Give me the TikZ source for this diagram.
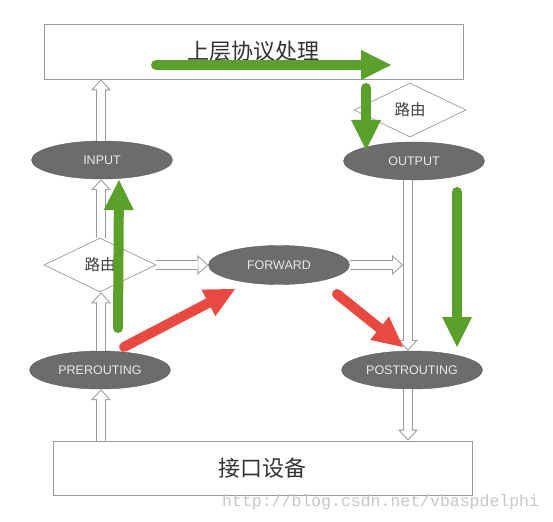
\documentclass[tikz,border=0pt]{standalone}
\usepackage{fontspec}
\setmainfont{Liberation Sans}
\newfontfamily\cjk{Noto Sans CJK SC}
\newfontfamily\wmfont{Liberation Mono}
\usetikzlibrary{shapes.geometric,arrows.meta}
\definecolor{lgray}{HTML}{9A9A9A}
\definecolor{egray}{HTML}{6C6C6C}
\definecolor{etext}{HTML}{E8E8E8}
\definecolor{grn}{HTML}{5BA02B}
\definecolor{rd}{HTML}{E84A41}
\begin{document}
\begin{tikzpicture}[x=1pt,y=-1pt,
  box/.style={draw=lgray, line width=0.8pt, minimum width=419pt, minimum height=55pt, inner sep=0pt, font=\cjk\fontsize{22}{22}\selectfont, text=black!80},
  chain/.style={ellipse, fill=egray, draw=egray!85!black, line width=0.4pt, minimum width=141pt, minimum height=38pt, inner sep=0pt, text=etext, font=\fontsize{12.5}{14}\selectfont},
  route/.style={diamond, draw=lgray, line width=0.7pt, minimum width=112pt, minimum height=54pt, inner sep=0pt, fill=white, font=\cjk\fontsize{15.5}{15.5}\selectfont, text=black!75},
  hollow/.style={line width=8pt, draw=white, shorten >=1.5pt, -{Triangle[length=8.5pt,width=15.5pt,line width=0pt]}, preaction={draw=lgray, line width=10pt, shorten >=0pt, -{Triangle[length=11pt,width=20pt,line width=0pt]}}},
  fat/.style={line width=10pt, line cap=round, -{Triangle[length=30pt,width=30pt,line width=0pt]}},
]
\fill[white] (0,0) rectangle (553,521);
\useasboundingbox (0,0) rectangle (553,521);

% boxes
\node[box] (top) at (253.5,51.5) {上层协议处理};
\node[box, minimum height=54pt] (bot) at (262.5,468) {接口设备};

% decision diamonds
\node[route] (rl) at (100,265) {路由};
\node[route] (rr) at (410,110) {路由};

% chains
\node[chain] (input) at (102,160) {INPUT};
\node[chain] (output) at (414,161) {OUTPUT};
\node[chain] (pre) at (100,370) {PREROUTING};
\node[chain] (post) at (412,370) {POSTROUTING};
\node[chain, minimum height=39pt] (fwd) at (279,265) {FORWARD};

% column guides
\coordinate (lc) at (101,0);
\coordinate (rc) at (408,0);
\coordinate (fend) at (403,265);

% hollow flow arrows
\draw[hollow] (input.north -| lc) -- (top.south -| lc);
\draw[hollow] (rl.north -| lc) -- (input.south -| lc);
\draw[hollow] (pre.north -| lc) -- (rl.south -| lc);
\draw[hollow] (bot.north -| lc) -- (pre.south -| lc);
\draw[hollow] (rl.east) -- (fwd.west);
\draw[hollow] (fwd.east) -- (fend);
\draw[hollow] (output.south -| rc) -- (post.north -| rc);
\draw[hollow] (post.south -| rc) -- (bot.north -| rc);

% highlight arrows
\coordinate (g1s) at (156,65);  \coordinate (g1e) at (391,65);
\coordinate (g2s) at (366,88);  \coordinate (g2e) at (366,150);
\coordinate (g3s) at (118,328); \coordinate (g3e) at (119,180);
\coordinate (g4s) at (457,192); \coordinate (g4e) at (457,347);
\coordinate (r1s) at (124,347); \coordinate (r1e) at (235,289);
\coordinate (r2s) at (337,294); \coordinate (r2e) at (403,347);
\draw[fat, grn] (g1s) -- (g1e);
\draw[fat, grn] (g2s) -- (g2e);
\draw[fat, grn] (g3s) -- (g3e);
\draw[fat, grn] (g4s) -- (g4e);
\draw[fat, rd] (r1s) -- (r1e);
\draw[fat, rd] (r2s) -- (r2e);

% watermark
\node[font=\wmfont\fontsize{16.5}{16.5}\selectfont, text=black!22, anchor=base west, inner sep=0pt] (wm) at (222,506) {http://blog.csdn.net/vbaspdelphi};
\end{tikzpicture}
\end{document}
